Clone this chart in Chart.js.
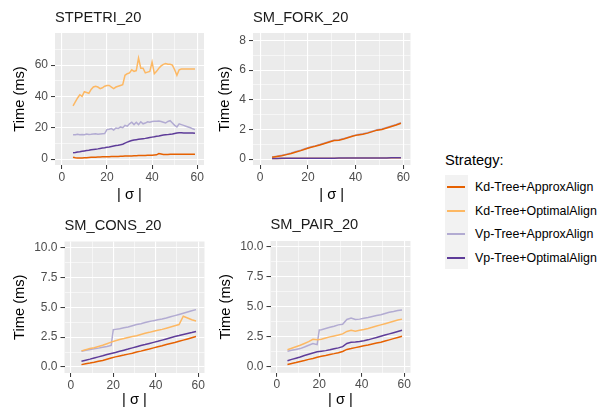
<!DOCTYPE html>
<html>
<head>
<meta charset="utf-8">
<script src="https://cdn.jsdelivr.net/npm/chart.js@4/dist/chart.umd.min.js"></script>
<style>
  body { margin: 0; background: #fff; width: 598px; height: 409px; position: relative; overflow: hidden;
         font-family: 'Liberation Sans', Arial, sans-serif; }
  canvas { position: absolute; }
  .lg { position: absolute; white-space: nowrap; color: #000; }
</style>
</head>
<body>
<canvas id="c1" width="212" height="205" style="left:0;top:0"></canvas>
<canvas id="c2" width="210" height="205" style="left:212px;top:0"></canvas>
<canvas id="c3" width="212" height="204" style="left:0;top:205px"></canvas>
<canvas id="c4" width="210" height="204" style="left:212px;top:205px"></canvas>
<div id="legend"></div>
<script>
const strategies = ['Kd-Tree+ApproxAlign', 'Kd-Tree+OptimalAlign', 'Vp-Tree+ApproxAlign', 'Vp-Tree+OptimalAlign'];
const colors = ['#E66101', '#FDB863', '#B2ABD2', '#5E3C99'];

// |sigma| values
const xFine = [5,6,7,8,9,10,11,12,13,14,15,16,17,18,19,20,21,22,23,24,25,26,27,28,29,30,31,32,
  33,34,35,36,37,38,39,40,41,42,43,44,45,46,47,48,49,50,51,52,53,54,55,56,57,58,59];
const xCoarse = [5,7,9,11,13,15,17,19,21,23,25,27,29,31,33,35,37,39,41,43,45,47,49,51,53,55,57,59];
// the Vp-Tree+ApproxAlign runs on SM_* also have a sample at 20 (step in the curve)
const xVpStep = [5,7,9,11,13,15,17,19,20,21,23,25,27,29,31,33,35,37,39,41,43,45,47,49,51,53,55,57,59];

const xTicks = [0, 20, 40, 60];
const xMinor = [10, 30, 50];

// STPETRI_20
const stpetriKdApprox = [1.2,0.8,0.6,0.6,0.7,0.8,0.9,1.0,1.1,1.1, 1.2,1.3,1.3,1.4,1.4,1.5,1.5,1.6,1.6,1.7,
  1.7,1.8,1.8,1.9,1.9,2.0,2.0,2.1,2.1,2.2, 2.2,2.3,2.3,2.4,2.4,2.5,2.6,2.7,3.5,3.2,
  2.9,2.9,2.9,3.0,3.0,3.0,3.0,3.1,3.1,3.1, 3.1,3.1,3.1,3.1,3.1];
const stpetriKdOptimal = [34,36.5,39,41,40,43,42.5,42,44.5,46, 46.5,46,45,45.5,46.5,47,47,46,45,46,
  46.5,47,47.5,53.5,54.5,55,57,56,56.5,64.5, 58,58,55,55.5,56,62,54.5,56,58,59.5,
  60.5,61,60.5,60.5,60,57,53.5,57,57.5,57.5, 57.5,57.5,57.5,57.5,57.5];
const stpetriVpApprox = [15.5,15.5,15.8,15.5,15.7,15.6,16,15.7,15.8,16, 16.2,15.8,16,16.2,16.3,
  18.8,19,19.5,18.5,19.8,19.5,20.5,20,21.5,21, 22.5,23.5,22,23.5,22,23.8,22.5,23,23.8,23.5,
  24,24.2,24.2,24.3,24,23.5,23,24,24.5,23, 21.5,20.5,22.5,22,21.5,21,20.5,20,19.3,18.8];
const stpetriVpOptimal = [4.0,4.2,4.5,4.7,5.0,5.2,5.4,5.6,5.9,6.1, 6.3,6.5,6.8,7.0,7.2,7.5,7.7,8.0,8.3,8.6,
  8.8,9.1,9.5,10.2,10.8,11.4,11.8,12.2,12.4,12.6, 12.8,13.0,13.2,13.5,13.8,14.0,14.2,14.5,14.7,15.0,
  15.3,15.5,15.6,15.8,16.0,16.3,16.6,16.8,16.8,16.7, 16.7,16.6,16.6,16.6,16.5];
const stpetriYTicks = [0, 20, 40, 60];
const stpetriYLabels = ['0', '20', '40', '60'];
const stpetriYMinor = [10, 30, 50, 70];

// SM_FORK_20
const forkKdApprox = [0.12,0.17,0.22,0.3,0.38,0.48,0.57,0.68,0.78,0.86,0.95,1.05,1.15,1.25,
  1.27,1.35,1.45,1.55,1.63,1.68,1.75,1.85,1.95,2.0,2.1,2.2,2.3,2.42];
const forkKdOptimal = [0.04,0.04,0.04,0.05,0.05,0.05,0.05,0.05,0.05,0.06,0.06,0.06,0.06,0.06,
  0.06,0.06,0.07,0.07,0.07,0.07,0.07,0.07,0.08,0.08,0.08,0.08,0.08,0.08];
const forkVpApprox = [0.14,0.19,0.25,0.33,0.41,0.51,0.6,0.71,0.81,0.89,0.98,1.08,1.18,1.28,
  1.3,1.38,1.48,1.58,1.66,1.71,1.78,1.88,1.98,2.03,2.13,2.23,2.33,2.45];
const forkVpOptimal = [0.04,0.04,0.05,0.05,0.05,0.05,0.05,0.05,0.06,0.06,0.06,0.06,0.06,0.06,
  0.07,0.07,0.07,0.07,0.07,0.07,0.08,0.08,0.08,0.08,0.08,0.09,0.09,0.09];
const forkYTicks = [0, 2, 4, 6, 8];
const forkYLabels = ['0', '2', '4', '6', '8'];
const forkYMinor = [1, 3, 5, 7];

// SM_CONS_20
const consKdApprox = [0.2,0.27,0.33,0.4,0.48,0.55,0.65,0.75,0.85,0.93,1.0,1.08,1.15,1.25,
  1.33,1.42,1.5,1.6,1.7,1.78,1.88,1.97,2.05,2.15,2.25,2.35,2.45,2.55];
const consKdOptimal = [1.35,1.45,1.55,1.62,1.72,1.82,1.95,2.08,2.2,2.3,2.38,2.47,2.55,2.62,
  2.72,2.82,2.9,3.0,3.08,3.15,3.25,3.35,3.45,3.55,4.25,4.1,3.95,3.85];
const consVpApprox = [1.32,1.4,1.47,1.52,1.58,1.65,1.72,1.8,3.12,3.15,3.2,3.28,3.35,3.45,3.55,
  3.62,3.72,3.8,3.88,3.95,4.02,4.1,4.2,4.3,4.4,4.5,4.6,4.7,4.8];
const consVpOptimal = [0.48,0.57,0.66,0.76,0.85,0.94,1.04,1.13,1.22,1.32,1.41,1.5,1.6,1.7,
  1.8,1.88,1.97,2.06,2.15,2.25,2.35,2.45,2.55,2.63,2.72,2.8,2.88,2.97];

// SM_PAIR_20
const pairKdApprox = [0.2,0.28,0.36,0.45,0.53,0.62,0.7,0.8,0.88,0.95,1.03,1.1,1.18,1.28,
  1.45,1.52,1.6,1.68,1.75,1.82,1.9,1.98,2.05,2.15,2.25,2.35,2.45,2.55];
const pairKdOptimal = [1.42,1.55,1.68,1.8,1.95,2.1,2.3,2.25,2.3,2.4,2.5,2.58,2.65,2.75,
  2.95,3.05,2.97,3.05,3.12,3.2,3.3,3.4,3.5,3.6,3.7,3.8,3.9,3.98];
const pairVpApprox = [1.3,1.38,1.45,1.52,1.65,1.8,1.95,1.85,3.08,3.1,3.2,3.3,3.38,3.5,3.55,
  3.95,4.08,3.95,3.98,4.05,4.12,4.2,4.28,4.35,4.45,4.55,4.62,4.7,4.75];
const pairVpOptimal = [0.5,0.62,0.72,0.82,0.95,1.05,1.15,1.25,1.3,1.35,1.42,1.5,1.58,1.68,
  1.95,2.05,2.08,2.12,2.18,2.25,2.35,2.45,2.55,2.65,2.75,2.85,2.95,3.05];

const smYTicks = [0, 2.5, 5, 7.5, 10];
const smYLabels = ['0.0', '2.5', '5.0', '7.5', '10.0'];
const smYMinor = [1.25, 3.75, 6.25, 8.75];

Chart.defaults.font.family = "'Liberation Sans', Arial, sans-serif";
Chart.defaults.font.size = 12;
Chart.defaults.animation = false;

const panelBg = {
  id: 'panelBg',
  beforeDraw(chart) {
    const a = chart.chartArea, ctx = chart.ctx;
    ctx.save();
    ctx.fillStyle = '#EBEBEB';
    ctx.fillRect(a.left, a.top, a.right - a.left, a.bottom - a.top);
    ctx.restore();
  }
};

function tickList(major, labels, minor) {
  const list = major.map((v, i) => ({ value: v, lbl: labels[i], minorTick: false }))
    .concat(minor.map(v => ({ value: v, lbl: '', minorTick: true })));
  return list.sort((a, b) => a.value - b.value);
}

function gridOpts() {
  return {
    color: '#FFFFFF',
    lineWidth: c => (c.tick && c.tick.minorTick) ? 0.55 : 1.1,
    drawTicks: true,
    tickLength: 4,
    tickWidth: 1,
    tickColor: c => (c.tick && c.tick.minorTick) ? 'rgba(0,0,0,0)' : '#333333'
  };
}

// series: list of [xs, values] in strategy order
function makePanel(id, title, series, yTicks, yLabels, yMinor, yMin, yMax, g) {
  const order = [0, 2, 3, 1];
  const datasets = series.map((s, i) => ({
    label: strategies[i],
    data: s[0].map((x, j) => ({ x: x, y: s[1][j] })),
    borderColor: colors[i],
    backgroundColor: colors[i],
    borderWidth: 1.5,
    pointRadius: 0,
    tension: 0,
    order: order[i]
  }));
  new Chart(document.getElementById(id), {
    type: 'line',
    data: { datasets: datasets },
    plugins: [panelBg],
    options: {
      responsive: false,
      layout: { padding: { left: 0, top: 0, right: g.padRight, bottom: 0 } },
      plugins: {
        legend: { display: false },
        tooltip: { enabled: false },
        title: {
          display: true, text: title, align: 'start', fullSize: false, color: '#1A1A1A',
          font: { size: 14.67, weight: 'normal', lineHeight: 1.2 },
          padding: { top: g.titleTop, bottom: g.titleBottom }
        }
      },
      scales: {
        x: {
          type: 'linear', min: -3, max: 63,
          afterBuildTicks: s => { s.ticks = tickList(xTicks, xTicks.map(String), xMinor); },
          afterFit: s => { s.height = g.xHeight; s.paddingLeft = 0; s.paddingRight = 0; },
          ticks: { autoSkip: false, maxRotation: 0, color: '#4D4D4D', padding: 1,
                   callback: (v, i, t) => t[i].lbl },
          grid: gridOpts(),
          border: { display: false },
          title: { display: true, text: '| σ |', color: '#000', font: { size: 14.67 },
                   padding: { top: 0, bottom: g.xTitlePad } }
        },
        y: {
          type: 'linear', min: yMin, max: yMax,
          afterBuildTicks: s => { s.ticks = tickList(yTicks, yLabels, yMinor); },
          afterFit: s => { s.width = g.yWidth; s.paddingTop = 0; s.paddingBottom = 0; },
          ticks: { autoSkip: false, color: '#4D4D4D', padding: 3,
                   callback: (v, i, t) => t[i].lbl },
          grid: gridOpts(),
          border: { display: false },
          title: { display: true, text: 'Time (ms)', color: '#000', font: { size: 14.67 },
                   padding: { top: g.yTitlePad, bottom: 0 } }
        }
      }
    }
  });
}

makePanel('c1', 'STPETRI_20',
  [[xFine, stpetriKdApprox], [xFine, stpetriKdOptimal], [xFine, stpetriVpApprox], [xFine, stpetriVpOptimal]],
  stpetriYTicks, stpetriYLabels, stpetriYMinor, -3.8, 80.5,
  { padRight: 8, titleTop: 9.2, titleBottom: 6.2, xHeight: 40, yWidth: 55, xTitlePad: 1.2, yTitlePad: 11.2 });

makePanel('c2', 'SM_FORK_20',
  [[xCoarse, forkKdApprox], [xCoarse, forkKdOptimal], [xCoarse, forkVpApprox], [xCoarse, forkVpOptimal]],
  forkYTicks, forkYLabels, forkYMinor, -0.4, 8.5,
  { padRight: 11.5, titleTop: 9.2, titleBottom: 6.2, xHeight: 40, yWidth: 41, xTitlePad: 1.2, yTitlePad: 4.2 });

makePanel('c3', 'SM_CONS_20',
  [[xCoarse, consKdApprox], [xCoarse, consKdOptimal], [xVpStep, consVpApprox], [xCoarse, consVpOptimal]],
  smYTicks, smYLabels, smYMinor, -0.5, 10.5,
  { padRight: 7.5, titleTop: 12, titleBottom: 6.9, xHeight: 36, yWidth: 64.5, xTitlePad: 0.2, yTitlePad: 11.2 });

makePanel('c4', 'SM_PAIR_20',
  [[xCoarse, pairKdApprox], [xCoarse, pairKdOptimal], [xVpStep, pairVpApprox], [xCoarse, pairVpOptimal]],
  smYTicks, smYLabels, smYMinor, -0.5, 10.5,
  { padRight: 11.5, titleTop: 11.5, titleBottom: 6.9, xHeight: 36.2, yWidth: 58.5, xTitlePad: 0, yTitlePad: 5.2 });

// legend
const legend = document.getElementById('legend');
let html = '<div class="lg" style="left:445px;top:152px;font-size:14.67px;line-height:17px">Strategy:</div>';
html += '<div class="lg" style="left:445px;top:175px;width:23px;height:94px;background:#F2F2F2"></div>';
strategies.forEach((s, i) => {
  const cy = 187 + 23.5 * i;
  html += '<div class="lg" style="left:447px;top:' + (cy - 1) + 'px;width:18px;height:2px;background:' + colors[i] + '"></div>';
  html += '<div class="lg" style="left:475px;top:' + (cy - 7) + 'px;font-size:12.4px;line-height:14px">' + s + '</div>';
});
legend.innerHTML = html;
</script>
</body>
</html>
